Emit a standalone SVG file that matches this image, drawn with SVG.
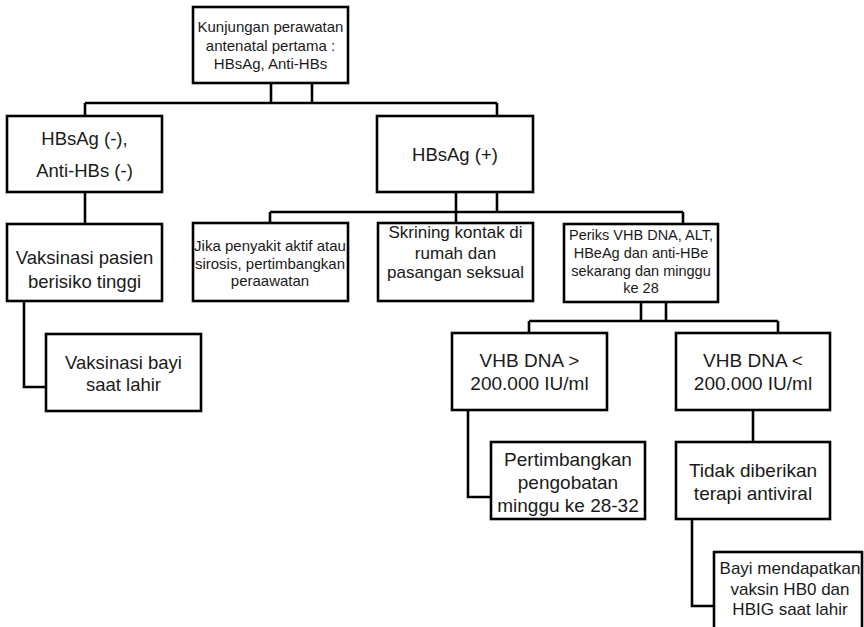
<svg xmlns="http://www.w3.org/2000/svg" width="864" height="627" viewBox="0 0 864 627">
<style>
.box{fill:#fff;stroke:#000;stroke-width:2.6}
.ln{fill:none;stroke:#000;stroke-width:2.6;stroke-linejoin:miter}
text{font-family:"Liberation Sans",Arial,sans-serif;fill:#1a1a1a;text-anchor:middle;dominant-baseline:central}
.t15{font-size:15px}
.t14{font-size:14.5px}
.t17{font-size:17px}
.t18{font-size:18.5px}
.t19{font-size:19px}
</style>
<rect width="864" height="627" fill="#fff"/>
<g id="connectors">
<path class="ln" d="M271,83V103M312,83V103M85,103H497M85,103V116M497,103V116"/>
<path class="ln" d="M85,192V224M24,301V387H46"/>
<path class="ln" d="M456,192V212M497,192V212M270,212H683M270,212V223M456,212V223M683,212V224"/>
<path class="ln" d="M641,302V321M666,302V321M529,321H778M529,321V333M778,321V333"/>
<path class="ln" d="M468,410V497H491M753,410V442M692,519V606H714"/>
</g>
<g id="n_top"><rect class="box" x="193" y="7" width="155" height="76"/>
<text class="t15" x="270.5" y="26">Kunjungan perawatan</text>
<text class="t15" x="270.5" y="45">antenatal pertama :</text>
<text class="t15" x="270.5" y="63">HBsAg, Anti-HBs</text></g>
<g id="n_neg"><rect class="box" x="7" y="116" width="155" height="76"/>
<text class="t18" x="84.5" y="138">HBsAg (-),</text>
<text class="t18" x="84.5" y="170">Anti-HBs (-)</text></g>
<g id="n_pos"><rect class="box" x="377" y="116" width="156" height="76"/>
<text class="t18" x="455" y="154">HBsAg (+)</text></g>
<g id="n_vakpas"><rect class="box" x="7" y="224" width="155" height="77"/>
<text class="t18" x="84.5" y="257">Vaksinasi pasien</text>
<text class="t18" x="84.5" y="281">berisiko tinggi</text></g>
<g id="n_vakbayi"><rect class="box" x="46" y="334" width="155" height="77"/>
<text class="t18" x="123.5" y="362">Vaksinasi bayi</text>
<text class="t18" x="123.5" y="384">saat lahir</text></g>
<g id="n_jika"><rect class="box" x="193" y="223" width="155" height="78"/>
<text class="t15" x="270" y="245">Jika penyakit aktif atau</text>
<text class="t15" x="270" y="263">sirosis, pertimbangkan</text>
<text class="t15" x="270" y="280">peraawatan</text></g>
<g id="n_skrining"><rect class="box" x="378" y="223" width="155" height="78"/>
<text class="t17" x="455.5" y="232">Skrining kontak di</text>
<text class="t17" x="455.5" y="253">rumah dan</text>
<text class="t17" x="455.5" y="272">pasangan seksual</text></g>
<g id="n_periks"><rect class="box" x="564" y="224" width="154" height="78"/>
<text class="t14" x="641" y="235">Periks VHB DNA, ALT,</text>
<text class="t14" x="641" y="253">HBeAg dan anti-HBe</text>
<text class="t14" x="641" y="271">sekarang dan minggu</text>
<text class="t14" x="641" y="288">ke 28</text></g>
<g id="n_vhbgt"><rect class="box" x="452" y="333" width="155" height="77"/>
<text class="t19" x="529.5" y="360">VHB DNA &gt;</text>
<text class="t19" x="529.5" y="383">200.000 IU/ml</text></g>
<g id="n_vhblt"><rect class="box" x="676" y="333" width="154" height="77"/>
<text class="t19" x="753" y="360">VHB DNA &lt;</text>
<text class="t19" x="753" y="383">200.000 IU/ml</text></g>
<g id="n_pertimb"><rect class="box" x="491" y="442" width="154" height="77"/>
<text class="t19" x="568" y="459">Pertimbangkan</text>
<text class="t19" x="568" y="482">pengobatan</text>
<text class="t19" x="568" y="505">minggu ke 28-32</text></g>
<g id="n_tidak"><rect class="box" x="676" y="442" width="154" height="77"/>
<text class="t19" x="753" y="470">Tidak diberikan</text>
<text class="t19" x="753" y="493">terapi antiviral</text></g>
<g id="n_bayi"><rect class="box" x="714" y="552" width="148" height="80"/>
<text class="t17" x="790" y="568">Bayi mendapatkan</text>
<text class="t17" x="790" y="589">vaksin HB0 dan</text>
<text class="t17" x="790" y="609">HBIG saat lahir</text></g>
</svg>
